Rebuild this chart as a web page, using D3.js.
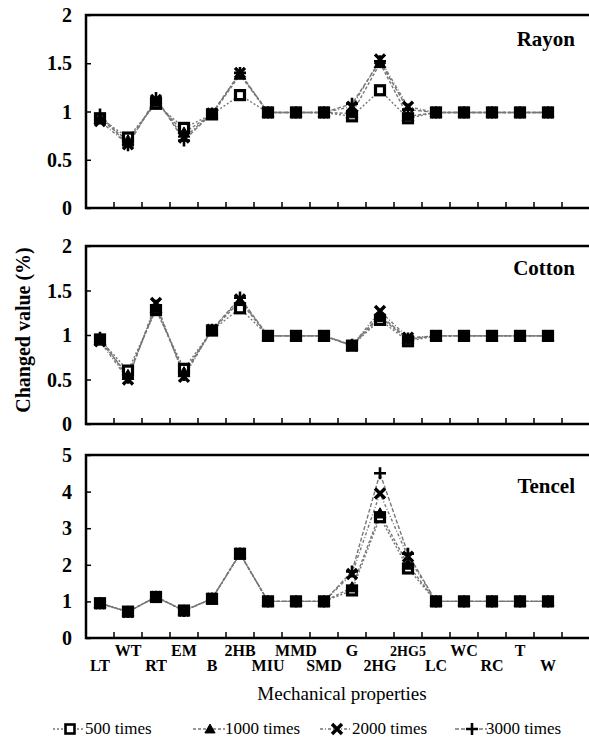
<!DOCTYPE html>
<html>
<head>
<meta charset="utf-8">
<script src="https://cdn.jsdelivr.net/npm/d3@7"></script>
<style>
  html, body { margin: 0; padding: 0; background: #fff; }
  svg { display: block; }
</style>
</head>
<body>
<svg id="chart" width="589" height="741"></svg>
<script>
const categories = ["LT","WT","RT","EM","B","2HB","MIU","MMD","SMD","G","2HG","2HG5","LC","WC","RC","T","W"];
const seriesNames = ["500 times","1000 times","2000 times","3000 times"];
const seriesSymbols = ["square","triangle","cross","plus"];

const rayon500  = [0.93,0.73,1.08,0.83,0.97,1.17,0.99,0.99,0.99,0.95,1.22,0.93,0.99,0.99,0.99,0.99,0.99];
const rayon1000 = [0.92,0.70,1.10,0.78,0.97,1.38,0.99,0.99,0.99,0.98,1.50,0.95,0.99,0.99,0.99,0.99,0.99];
const rayon2000 = [0.90,0.66,1.12,0.73,0.98,1.40,0.99,0.99,0.99,1.05,1.54,1.05,0.99,0.99,0.99,0.99,0.99];
const rayon3000 = [0.97,0.65,1.14,0.70,0.98,1.40,0.99,0.99,0.99,1.08,1.52,1.02,0.99,0.99,0.99,0.99,0.99];

const cotton500  = [0.95,0.60,1.28,0.62,1.05,1.30,0.99,0.99,0.99,0.88,1.17,0.93,0.99,0.99,0.99,0.99,0.99];
const cotton1000 = [0.94,0.55,1.30,0.58,1.05,1.38,0.99,0.99,0.99,0.88,1.20,0.95,0.99,0.99,0.99,0.99,0.99];
const cotton2000 = [0.93,0.50,1.36,0.53,1.06,1.40,0.99,0.99,0.99,0.88,1.27,0.97,0.99,0.99,0.99,0.99,0.99];
const cotton3000 = [0.97,0.52,1.33,0.55,1.06,1.42,0.99,0.99,0.99,0.89,1.22,0.96,0.99,0.99,0.99,0.99,0.99];

const tencel500  = [0.95,0.72,1.12,0.75,1.07,2.30,1.00,1.00,1.00,1.30,3.30,1.90,1.00,1.00,1.00,1.00,1.00];
const tencel1000 = [0.95,0.72,1.12,0.75,1.07,2.30,1.00,1.00,1.00,1.38,3.40,2.00,1.00,1.00,1.00,1.00,1.00];
const tencel2000 = [0.94,0.71,1.13,0.74,1.08,2.31,1.00,1.00,1.00,1.75,3.95,2.22,1.00,1.00,1.00,1.00,1.00];
const tencel3000 = [0.95,0.71,1.13,0.74,1.08,2.31,1.00,1.00,1.00,1.82,4.50,2.30,1.00,1.00,1.00,1.00,1.00];

const rayonTicks  = ["0","0.5","1","1.5","2"];
const cottonTicks = ["0","0.5","1","1.5","2"];
const tencelTicks = ["0","1","2","3","4","5"];

const panels = [
  { name: "Rayon",  series: [rayon500, rayon1000, rayon2000, rayon3000],   ticks: rayonTicks,  max: 2, top: 15,  bottom: 208, labelY: 46 },
  { name: "Cotton", series: [cotton500, cotton1000, cotton2000, cotton3000], ticks: cottonTicks, max: 2, top: 246, bottom: 424, labelY: 275 },
  { name: "Tencel", series: [tencel500, tencel1000, tencel2000, tencel3000], ticks: tencelTicks, max: 5, top: 455, bottom: 638, labelY: 493 }
];

const FONT = '"Liberation Serif"';
const svg = d3.select("#chart");
const left = 86, bandW = 28;
const x = d3.scaleBand().domain(categories).range([left, left + bandW * categories.length]).paddingInner(0).paddingOuter(0);
const frameRight = 591;

function txt(sel) { return sel.style("font-family", FONT).attr("fill", "#000"); }

function drawMarker(g, type, cx, cy, s) {
  if (type === "square") {
    g.append("rect").attr("x", cx - 4.5).attr("y", cy - 4.5).attr("width", 9).attr("height", 9)
      .attr("fill", "#fff").attr("stroke", "#000").attr("stroke-width", s ? 2.6 : 3.2);
  } else if (type === "triangle") {
    const sym = d3.symbol().type(d3.symbolTriangle).size(s ? 45 : 60);
    g.append("path").attr("d", sym()).attr("transform", `translate(${cx},${cy + 1})`)
      .attr("fill", "#000").attr("stroke", "#000").attr("stroke-width", 1);
  } else if (type === "cross") {
    const r = 5;
    g.append("path").attr("d", `M${cx - r},${cy - r}L${cx + r},${cy + r}M${cx - r},${cy + r}L${cx + r},${cy - r}`)
      .attr("stroke", "#000").attr("stroke-width", 3.4).attr("fill", "none");
  } else if (type === "plus") {
    const r = 6;
    g.append("path").attr("d", `M${cx - r},${cy}L${cx + r},${cy}M${cx},${cy - r}L${cx},${cy + r}`)
      .attr("stroke", "#000").attr("stroke-width", 2.6).attr("fill", "none");
  }
}

const dashes = ["2,2", "3,2", "3,2,1,2", "4,2"];

panels.forEach(p => {
  const y = d3.scaleLinear().domain([0, p.max]).range([p.bottom, p.top]);
  const g = svg.append("g");

  const yAxis = d3.axisRight(y).tickValues(p.ticks.map(Number)).tickSize(5).tickFormat("");
  g.append("g").attr("transform", `translate(${left},0)`).call(yAxis)
    .call(a => a.select(".domain").remove())
    .call(a => a.selectAll("line").attr("stroke", "#000").attr("stroke-width", 1.5));
  txt(g.selectAll(".ylab").data(p.ticks).enter().append("text"))
    .attr("x", 72).attr("y", d => y(+d)).attr("dy", "0.35em")
    .attr("text-anchor", "end").attr("font-weight", "bold").attr("font-size", 20)
    .text(d => d);

  const xb = categories.map((c) => x(c) + bandW);
  g.selectAll(".xt").data(xb).enter().append("line")
    .attr("x1", d => d).attr("x2", d => d).attr("y1", p.bottom).attr("y2", p.bottom - 6)
    .attr("stroke", "#000").attr("stroke-width", 1.5);

  g.append("path")
    .attr("d", `M${frameRight},${p.top}H${left}V${p.bottom}H${frameRight}`)
    .attr("fill", "none").attr("stroke", "#000").attr("stroke-width", 2.5);

  const line = d3.line().x((d, i) => x(categories[i]) + bandW / 2).y(d => y(d));
  p.series.forEach((s, si) => {
    g.append("path").datum(s).attr("d", line)
      .attr("fill", "none").attr("stroke", "#777").attr("stroke-width", 1.4)
      .attr("stroke-dasharray", dashes[si]);
  });
  p.series.forEach((s, si) => {
    s.forEach((v, i) => drawMarker(g, seriesSymbols[si], x(categories[i]) + bandW / 2, y(v), false));
  });

  txt(g.append("text")).attr("x", 575).attr("y", p.labelY).attr("text-anchor", "end")
    .attr("font-weight", "bold").attr("font-size", 21).text(p.name);
});

txt(svg.selectAll(".cat").data(categories).enter().append("text"))
  .attr("x", d => x(d) + bandW / 2)
  .attr("y", (d, i) => i % 2 === 0 ? 671 : 656)
  .attr("text-anchor", "middle").attr("font-weight", "bold")
  .attr("font-size", d => d === "2HG5" ? 14 : 16)
  .text(d => d);

txt(svg.append("text")).attr("x", 342).attr("y", 700).attr("text-anchor", "middle")
  .attr("font-size", 19).text("Mechanical properties");
txt(svg.append("text")).attr("transform", "translate(30,330) rotate(-90)").attr("text-anchor", "middle")
  .attr("font-weight", "bold").attr("font-size", 20).text("Changed value (%)");

const legendX = [70, 210, 337, 472];
const legendY = 729;
seriesNames.forEach((n, i) => {
  const lg = svg.append("g");
  lg.append("line").attr("x1", legendX[i] - 17).attr("x2", legendX[i] + 15)
    .attr("y1", legendY).attr("y2", legendY)
    .attr("stroke", "#777").attr("stroke-width", 1.4).attr("stroke-dasharray", dashes[i]);
  drawMarker(lg, seriesSymbols[i], legendX[i], legendY, true);
  txt(lg.append("text")).attr("x", legendX[i] + (i === 3 ? 14 : 15)).attr("y", legendY + 5)
    .attr("font-size", 17).text(n);
});
</script>
</body>
</html>
